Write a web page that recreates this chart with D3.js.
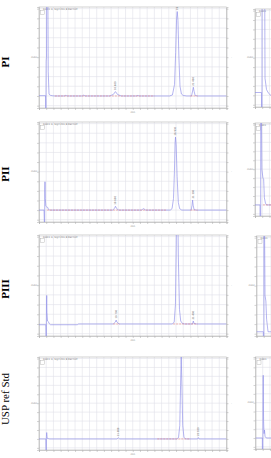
<!DOCTYPE html>
<html>
<head>
<meta charset="utf-8">
<script src="https://cdn.jsdelivr.net/npm/d3@7"></script>
<style>
  body { margin: 0; background: #fff; }
  svg { display: block; }
</style>
</head>
<body>
<svg width="271" height="458"></svg>
<script>
var svg = d3.select("svg");

// sample names, one chromatogram per row
var sampleNames = ["PI", "PII", "PIII", "USP ref Std"];
var boldName = [true, true, true, false];

// time axis (min) and signal grid (mAU)
var timeDomain = [0, 26];
var timeTicks = d3.range(0, 27, 1);
var signalDomain = [-12.4, 91.7];
var signalTicks = d3.range(-10, 100, 10);
var zoomFactor = 10; // right-hand panels are a y-zoom of the same run

// traces: [time, signal] vertices
var traceP1 = [[0,0.3],[0.9,0.3],[0.93,-13],[0.97,-13],[1.0,36],[1.04,40],[1.08,150],[1.2,150],
  [1.28,25],[1.39,1.8],[1.6,0.6],[1.9,0.2],[2.2,0],[3.5,0],[3.7,0.6],[3.9,0],[6.0,0],[6.2,0.8],
  [6.4,0],[9.8,0],[10.3,1.5],[10.6,4.5],[10.9,1.5],[11.4,0],[13.5,0],[13.7,0.5],[13.9,0],
  [18.1,0],[18.5,1],[18.8,12],[18.95,45],[19.08,80],[19.17,87],[19.27,78],[19.4,40],[19.55,10],
  [19.75,2],[20.0,0.5],[20.5,0],[21.15,0],[21.3,5],[21.4,9],[21.5,5],[21.65,0.5],[22,0],[26,0]];
var traceP2 = [[0,0],[0.7,0],[0.74,-13],[0.78,-13],[0.8,20],[0.83,29.5],[0.87,12],[0.95,4],
  [1.1,3],[1.2,2.9],[1.3,0.8],[1.45,0.2],[1.6,0],[10.2,0],[10.5,2],[10.6,4],[10.75,2],[11.0,0],
  [14.2,0],[14.5,1.5],[14.8,0],[18.2,0],[18.45,1.5],[18.65,12],[18.78,40],[18.87,70],[18.93,76],
  [19.02,68],[19.15,35],[19.32,8],[19.5,1.5],[19.8,0],[21.1,0],[21.22,5],[21.3,10.4],[21.38,5],
  [21.5,0.5],[21.8,0],[26,0]];
var traceP3 = [[0,-0.8],[0.95,-0.8],[0.98,-13],[1.02,-13],[1.04,20],[1.07,29.4],[1.1,12],
  [1.18,3],[1.3,2.4],[1.4,0.5],[1.6,-0.8],[5.3,-0.8],[5.5,0],[10.3,0],[10.6,2],[10.7,4],
  [10.8,2],[11.1,0],[18.5,0],[18.75,2],[18.92,20],[19.03,80],[19.1,140],[19.22,140],[19.32,70],
  [19.48,15],[19.65,3],[19.9,0.5],[20.2,0],[21.3,0],[21.4,3],[21.5,0.5],[21.8,0],[26,0]];
var traceStd = [[0,0],[0.95,0],[0.98,-13],[1.01,-13],[1.03,3],[1.07,7.1],[1.12,2],[1.18,0.5],
  [1.25,0.9],[1.32,0.2],[1.5,0],[10.8,0],[11.0,1.2],[11.2,0],[19.1,0],[19.35,1.5],[19.52,15],
  [19.63,60],[19.72,92],[19.82,60],[19.93,15],[20.1,2],[20.3,0],[22.0,0],[22.1,1.5],[22.2,0],[26,0]];
var traces = [traceP1, traceP2, traceP3, traceStd];

// integrated baseline segments (min)
var integrations = [
  [[2.2, 16.0], [21.0, 22.0]],
  [[1.1, 17.7], [21.0, 22.0]],
  [[10.3, 11.2], [18.6, 22.0]],
  [[16.4, 21.0]]
];

// retention-time labels above peaks
var peakMarks = [
  [[10.6, 4.5], [19.17, 87], [21.4, 9]],
  [[10.6, 4], [18.93, 76], [21.3, 10.4]],
  [[10.7, 4], [19.16, 91], [21.4, 3]],
  [[11.0, 1.2], [19.72, 92], [22.1, 1.5]]
];

// panel boxes (px)
var rows = [
  {top: 7, bottom: 108, rTop: 9, rBottom: 107, rLeft: 255, label: 62},
  {top: 122, bottom: 222, rTop: 123, rBottom: 216, rLeft: 255, label: 174},
  {top: 235, bottom: 336, rTop: 236, rBottom: 336, rLeft: 256.5, label: 289},
  {top: 357, bottom: 450, rTop: 357, rBottom: 449, rLeft: 255.5, label: 399}
];
var leftX = [39, 226.5];
var panelW = leftX[1] - leftX[0];

var defs = svg.append("defs");

function tiny(sel) {
  return sel.attr("font-family", "DejaVu Sans").attr("font-size", 2.5).attr("fill", "#888");
}

function drawPanel(id, x0, top, bottom, k, trace, ints, marks, full) {
  var x = d3.scaleLinear().domain(timeDomain).range([x0, x0 + panelW]);
  var y = d3.scaleLinear()
    .domain([signalDomain[0] / k, signalDomain[1] / k])
    .range([bottom, top]);

  defs.append("clipPath").attr("id", id)
    .append("rect")
    .attr("x", x0).attr("y", top)
    .attr("width", panelW).attr("height", bottom - top);

  var g = svg.append("g");

  // grid
  g.append("g").selectAll("line")
    .data(timeTicks.slice(1, -1))
    .enter().append("line")
    .attr("x1", function (d) { return x(d); })
    .attr("x2", function (d) { return x(d); })
    .attr("y1", top).attr("y2", bottom)
    .attr("stroke", "#e0e0ea").attr("stroke-width", 0.6);
  g.append("g").selectAll("line")
    .data(signalTicks.filter(function (d) { return y(d / k) < bottom - 1; }))
    .enter().append("line")
    .attr("x1", x0).attr("x2", x0 + panelW)
    .attr("y1", function (d) { return y(d / k); })
    .attr("y2", function (d) { return y(d / k); })
    .attr("stroke", "#e0e0ea").attr("stroke-width", 0.6);

  // axes: ticks only
  var grey = function (a) { a.selectAll("line,path").attr("stroke", "#a8a8a8").attr("stroke-width", 0.5); };
  g.append("g")
    .attr("transform", "translate(0," + bottom + ")")
    .call(d3.axisBottom(x).tickValues(timeTicks).tickSize(2).tickFormat(""))
    .call(grey);
  var ys = d3.scaleLinear().domain(signalDomain).range([bottom, top]);
  g.append("g")
    .attr("transform", "translate(" + x0 + ",0)")
    .call(d3.axisLeft(ys).tickValues(signalTicks).tickSize(2).tickFormat(""))
    .call(grey);
  g.append("g")
    .attr("transform", "translate(" + (x0 + panelW) + ",0)")
    .call(d3.axisRight(ys).tickValues(signalTicks).tickSize(2).tickFormat(""))
    .call(grey);

  g.append("rect")
    .attr("x", x0).attr("y", top)
    .attr("width", panelW).attr("height", bottom - top)
    .attr("fill", "none").attr("stroke", "#b4b4b4").attr("stroke-width", 0.6);

  // tiny annotations
  g.append("text").call(tiny)
    .attr("x", x0 - 5).attr("y", (top + bottom) / 2)
    .attr("text-anchor", "middle")
    .text("mAU");
  if (full) {
    g.append("text").call(tiny)
      .attr("x", x0 + panelW + 5).attr("y", (top + bottom) / 2)
      .attr("text-anchor", "middle")
      .text("-");
    g.append("text").call(tiny)
      .attr("x", x0 + panelW / 2).attr("y", bottom + 5)
      .attr("text-anchor", "middle")
      .text("min");
  }
  g.append("text").call(tiny)
    .attr("x", x0 + 4).attr("y", top + 2.5)
    .attr("fill", "#777")
    .text(full ? "DAD1 A, Sig=220,8 Ref=off" : "DAD1");
  g.append("rect")
    .attr("x", x0 + 1.5).attr("y", top + 3.5)
    .attr("width", 4).attr("height", 4)
    .attr("fill", "#fff").attr("stroke", "#aaa").attr("stroke-width", 0.4);

  var plot = g.append("g").attr("clip-path", "url(#" + id + ")");

  var line = d3.line()
    .x(function (d) { return x(d[0]); })
    .y(function (d) { return y(d[1]); });

  plot.append("path")
    .datum(trace)
    .attr("d", line)
    .attr("fill", "none")
    .attr("stroke", "#8c8ce8")
    .attr("stroke-width", 0.65);

  plot.selectAll(".int")
    .data(ints)
    .enter().append("line")
    .attr("class", "int")
    .attr("x1", function (d) { return x(d[0]); })
    .attr("x2", function (d) { return x(d[1]); })
    .attr("y1", y(0)).attr("y2", y(0))
    .attr("stroke", "#e27070").attr("stroke-width", 0.5)
    .attr("stroke-dasharray", "2,1");

  plot.selectAll(".mark")
    .data(marks)
    .enter().append("text")
    .attr("class", "mark")
    .attr("transform", function (d) {
      return "translate(" + (x(d[0]) + 0.9) + "," + (y(d[1]) - 1.5) + ") rotate(-90)";
    })
    .attr("font-family", "DejaVu Sans").attr("font-size", 2.5).attr("fill", "#666")
    .text(function (d) { return d[0].toFixed(3); });
}

rows.forEach(function (r, i) {
  drawPanel("cl" + i, leftX[0], r.top, r.bottom, 1, traces[i], integrations[i], peakMarks[i], true);
  drawPanel("cr" + i, r.rLeft, r.rTop, r.rBottom, zoomFactor, traces[i], integrations[i], [], false);

  svg.append("text")
    .attr("transform", "translate(9," + r.label + ") rotate(-90)")
    .attr("font-family", "Liberation Serif, Times New Roman, serif")
    .attr("font-size", 11)
    .attr("font-weight", boldName[i] ? "bold" : "normal")
    .attr("text-anchor", "middle")
    .attr("fill", "#000")
    .text(sampleNames[i]);
});
</script>
</body>
</html>
